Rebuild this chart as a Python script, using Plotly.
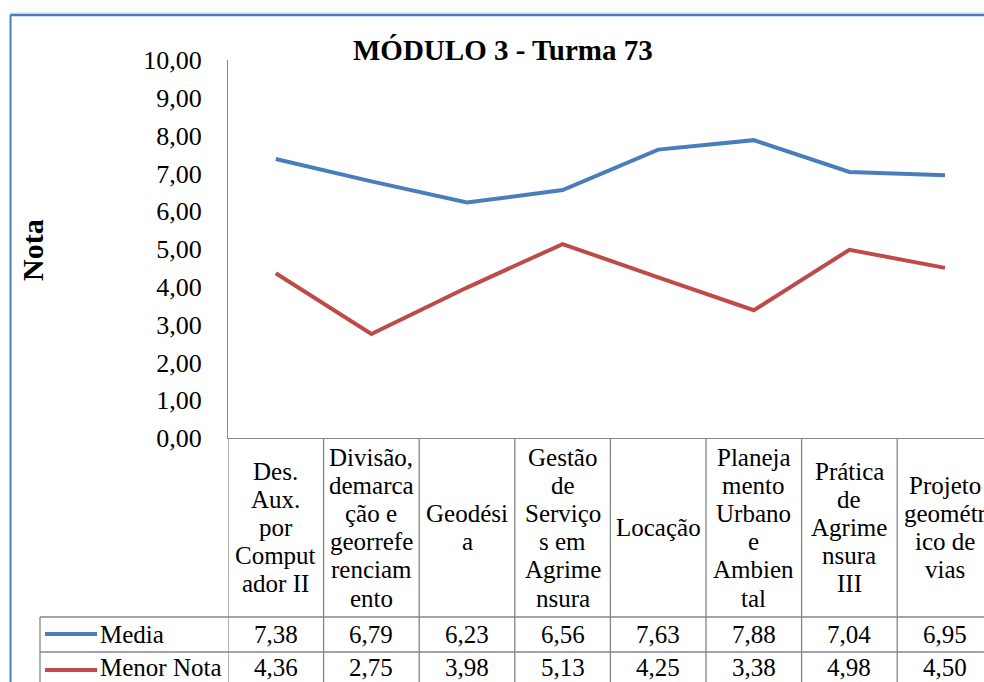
import plotly.graph_objects as go

categories = ["Des. Aux. por Computador II", "Divisão, demarcação e georreferenciamento",
              "Geodésia", "Gestão de Serviços em Agrimensura", "Locação",
              "Planejamento Urbano e Ambiental", "Prática de Agrimensura III",
              "Projeto geométrico de vias"]
category_lines = [
    ["Des.", "Aux.", "por", "Comput", "ador II"],
    ["Divisão,", "demarca", "ção e", "georrefe", "renciam", "ento"],
    ["Geodési", "a"],
    ["Gestão", "de", "Serviço", "s em", "Agrime", "nsura"],
    ["Locação"],
    ["Planeja", "mento", "Urbano", "e", "Ambien", "tal"],
    ["Prática", "de", "Agrime", "nsura", "III"],
    ["Projeto", "geométr", "ico de", "vias"],
]
media = [7.38, 6.79, 6.23, 6.56, 7.63, 7.88, 7.04, 6.95]
menor_nota = [4.36, 2.75, 3.98, 5.13, 4.25, 3.38, 4.98, 4.50]
series_names = ["Media", "Menor Nota"]
y_ticks = [0, 1, 2, 3, 4, 5, 6, 7, 8, 9, 10]

W, H = 984, 682
BLUE = "#4A7EBB"
RED = "#BE4B48"
GRID = "#868686"
FONT = "Liberation Serif"
TXT = 25

ax_left = 228
col_w = 95.6
plot_top, plot_bot = 60, 438
row1_top, row2_top = 617, 652
row_text_y = (634, 667)


def py(y):
    return 1 - y / H


x_idx = list(range(len(categories)))
fig = go.Figure()
fig.add_trace(go.Scatter(x=x_idx, y=media, mode="lines", name=series_names[0],
                         line=dict(color=BLUE, width=4), showlegend=False,
                         hovertext=categories))
fig.add_trace(go.Scatter(x=x_idx, y=menor_nota, mode="lines", name=series_names[1],
                         line=dict(color=RED, width=4), showlegend=False,
                         hovertext=categories))

shapes = []
annotations = []
# outer frame
shapes.append(dict(type="line", xref="paper", yref="paper", x0=10 / W, x1=1, y0=py(13), y1=py(13),
                   line=dict(color="#D9E1EC", width=1)))
shapes.append(dict(type="line", xref="paper", yref="paper", x0=10 / W, x1=1, y0=py(15), y1=py(15),
                   line=dict(color=BLUE, width=2.5)))
shapes.append(dict(type="line", xref="paper", yref="paper", x0=10.5 / W, x1=10.5 / W, y0=py(15), y1=0,
                   line=dict(color=BLUE, width=2)))

# table vertical lines
n = len(categories)
for i in range(n + 1):
    shapes.append(dict(type="line", xref="x", yref="paper", x0=i - 0.5, x1=i - 0.5,
                       y0=py(plot_bot), y1=0, line=dict(color=GRID, width=1.3)))
# legend column box
shapes.append(dict(type="line", xref="paper", yref="paper", x0=40 / W, x1=40 / W,
                   y0=py(row1_top), y1=0, line=dict(color=GRID, width=1.3)))
for yy in (row1_top, row2_top):
    shapes.append(dict(type="line", xref="paper", yref="paper", x0=40 / W, x1=1,
                       y0=py(yy), y1=py(yy), line=dict(color=GRID, width=1.3)))
# legend line samples
for yy, col in ((634, BLUE), (670, RED)):
    shapes.append(dict(type="line", xref="paper", yref="paper", x0=45 / W, x1=97 / W,
                       y0=py(yy), y1=py(yy), line=dict(color=col, width=4)))

# header text
line_h = 28.2
hdr_c = (plot_bot + row1_top) / 2
for i, lines in enumerate(category_lines):
    k = len(lines)
    for j, t in enumerate(lines):
        yy = hdr_c + (j - (k - 1) / 2) * line_h
        annotations.append(dict(x=i, y=py(yy), xref="x", yref="paper", text=t, showarrow=False,
                                xanchor="center", yanchor="middle",
                                font=dict(family=FONT, size=TXT, color="#000")))


def fmt(v):
    return f"{v:.2f}".replace(".", ",")


for vals, yy in zip((media, menor_nota), row_text_y):
    for i, v in enumerate(vals):
        annotations.append(dict(x=i, y=py(yy), xref="x", yref="paper", text=fmt(v), showarrow=False,
                                xanchor="center", yanchor="middle",
                                font=dict(family=FONT, size=TXT, color="#000")))

for name, yy in zip(series_names, row_text_y):
    annotations.append(dict(x=98 / W, y=py(yy), xref="paper", yref="paper", text=name, showarrow=False,
                            xanchor="left", yanchor="middle",
                            font=dict(family=FONT, size=TXT, color="#000")))

# title
annotations.append(dict(x=503 / W, y=py(50), xref="paper", yref="paper",
                        text="<b>MÓDULO 3 - Turma 73</b>", showarrow=False,
                        xanchor="center", yanchor="middle",
                        font=dict(family=FONT, size=29, color="#000")))
# y axis title
annotations.append(dict(x=32 / W, y=py(250), xref="paper", yref="paper",
                        text="<b>Nota</b>", showarrow=False, textangle=-90,
                        xanchor="center", yanchor="middle",
                        font=dict(family=FONT, size=30, color="#000")))

fig.update_layout(
    width=W, height=H, autosize=False,
    margin=dict(l=0, r=0, t=0, b=0, pad=0, autoexpand=False),
    paper_bgcolor="white", plot_bgcolor="white",
    separators=",.",
    showlegend=False,
    shapes=shapes,
    annotations=annotations,
    xaxis=dict(domain=[ax_left / W, 1], range=[-0.5, -0.5 + (W - ax_left) / col_w],
               showticklabels=False, showgrid=False, zeroline=False, automargin=False,
               showline=True, linecolor=GRID, linewidth=1.3, ticks=""),
    yaxis=dict(domain=[py(plot_bot), py(plot_top)], range=[0, 10],
               tickvals=y_ticks, tickformat=".2f", automargin=False,
               showgrid=False, zeroline=False,
               showline=True, linecolor=GRID, linewidth=1.3,
               ticks="", ticklabelstandoff=20,
               tickfont=dict(family=FONT, size=26, color="#000")),
)

fig.write_html("out.html", config={"displayModeBar": False},
               post_script="document.body.style.margin='0';document.body.style.overflow='hidden';")
